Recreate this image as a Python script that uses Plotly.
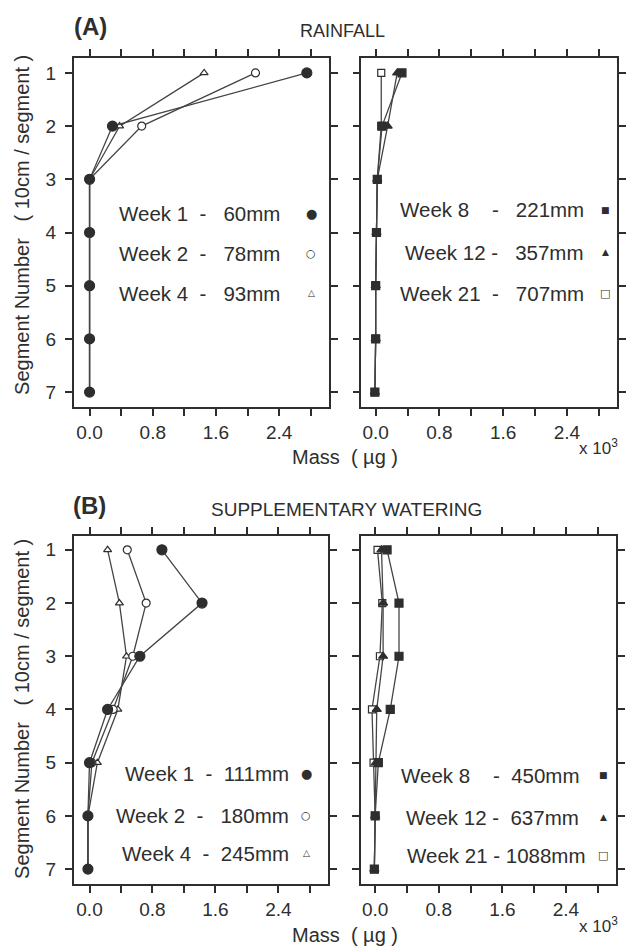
import plotly.graph_objects as go

# ---------------- data ----------------
segments = [1, 2, 3, 4, 5, 6, 7]
x_tick_vals = [0.0, 0.4, 0.8, 1.2, 1.6, 2.0, 2.4, 2.8]
x_tick_text = ["0.0", " ", "0.8", " ", "1.6", " ", "2.4", " "]
y_tick_vals = [1, 2, 3, 4, 5, 6, 7]
y_tick_text = ["1", "2", "3", "4", "5", "6", "7"]

# (A) Rainfall, mass (x10^3 ug) per segment
rain_week1 = [2.75, 0.29, 0.0, 0.0, 0.0, 0.0, 0.0]
rain_week2 = [2.10, 0.66, 0.0, 0.0, 0.0, 0.0, 0.0]
rain_week4 = [1.45, 0.38, 0.0, 0.0, 0.0, 0.0, 0.0]
rain_week8 = [0.33, 0.08, 0.02, 0.01, 0.0, 0.0, -0.01]
rain_week12 = [0.27, 0.15, 0.02, 0.01, 0.0, 0.0, -0.01]
rain_week21 = [0.07, 0.07, 0.02, 0.01, 0.0, 0.0, -0.01]

# (B) Supplementary watering
supp_week1 = [0.92, 1.43, 0.64, 0.23, 0.0, -0.02, -0.02]
supp_week2 = [0.48, 0.72, 0.55, 0.30, 0.03, -0.02, -0.02]
supp_week4 = [0.23, 0.38, 0.47, 0.36, 0.10, -0.02, -0.02]
supp_week8 = [0.15, 0.30, 0.30, 0.19, 0.04, 0.0, -0.01]
supp_week12 = [0.08, 0.10, 0.10, 0.02, 0.01, 0.0, -0.01]
supp_week21 = [0.03, 0.09, 0.06, -0.04, -0.02, 0.0, -0.01]

S = "\u00a0"
legend_rain_left = ["Week 1" + S * 2 + "-" + S * 3 + "60mm",
                    "Week 2" + S * 2 + "-" + S * 3 + "78mm",
                    "Week 4" + S * 2 + "-" + S * 3 + "93mm"]
legend_rain_right = ["Week 8" + S * 4 + "-" + S * 3 + "221mm",
                     "Week 12" + S + "-" + S * 3 + "357mm",
                     "Week 21" + S * 2 + "-" + S * 3 + "707mm"]
legend_supp_left = ["Week 1" + S * 2 + "-" + S * 2 + "111mm",
                    "Week 2" + S * 2 + "-" + S * 3 + "180mm",
                    "Week 4" + S * 2 + "-" + S * 2 + "245mm"]
legend_supp_right = ["Week 8" + S * 4 + "-" + S * 2 + "450mm",
                     "Week 12" + S + "-" + S * 2 + "637mm",
                     "Week 21" + S + "-" + S + "1088mm"]

INK = "#2e2e2e"
LINE = "#444444"
FONT = "Liberation Sans, Arial, sans-serif"
W, H = 626, 946

fig = go.Figure()


def add_series(xvals, ax, symbol, size, filled):
    fig.add_trace(go.Scatter(
        x=xvals, y=segments, xaxis="x" + ax, yaxis="y" + ax,
        mode="lines+markers",
        line=dict(color=LINE, width=1.3),
        marker=dict(symbol=symbol, size=size,
                    color=INK if filled else "white",
                    line=dict(color=INK, width=1.2)),
        showlegend=False, cliponaxis=False, hoverinfo="x+y"))


# panel 1 (A left)
add_series(rain_week4, "", "triangle-up", 7, False)
add_series(rain_week2, "", "circle", 8, False)
add_series(rain_week1, "", "circle", 10, True)
# panel 2 (A right)
add_series(rain_week21, "2", "square", 7, False)
add_series(rain_week12, "2", "triangle-up", 8, True)
add_series(rain_week8, "2", "square", 8, True)
# panel 3 (B left)
add_series(supp_week4, "3", "triangle-up", 7, False)
add_series(supp_week2, "3", "circle", 8, False)
add_series(supp_week1, "3", "circle", 10, True)
# panel 4 (B right)
add_series(supp_week21, "4", "square", 7, False)
add_series(supp_week12, "4", "triangle-up", 8, True)
add_series(supp_week8, "4", "square", 8, True)


def px_x(p):
    return p / W


def px_y(p):
    return 1 - p / H


def xaxis(left, right, lo):
    return dict(domain=[px_x(left), px_x(right)], range=[lo, 3.03],
                tickvals=x_tick_vals, ticktext=x_tick_text,
                ticks="outside", ticklen=7, tickwidth=1.5, tickcolor=INK,
                showline=True, linewidth=1.6, linecolor=INK, mirror="ticks",
                showgrid=False, zeroline=False,
                tickfont=dict(family=FONT, size=19, color=INK))


def yaxis(top, bottom, lo, hi, labels, anchor):
    return dict(domain=[px_y(bottom), px_y(top)], range=[hi, lo],
                tickvals=y_tick_vals, ticktext=y_tick_text, showticklabels=labels,
                ticks="outside", ticklen=7, tickwidth=1.5, tickcolor=INK,
                showline=True, linewidth=1.6, linecolor=INK, mirror="ticks",
                showgrid=False, zeroline=False, anchor=anchor,
                ticklabelstandoff=5,
                tickfont=dict(family=FONT, size=19, color=INK))


layout = dict(
    width=W, height=H, margin=dict(l=0, r=0, t=0, b=0),
    paper_bgcolor="white", plot_bgcolor="white",
    xaxis=dict(xaxis(74, 330, -0.2), anchor="y"),
    yaxis=yaxis(58, 407, 0.72, 7.28, True, "x"),
    xaxis2=dict(xaxis(362.5, 619, -0.18), anchor="y2"),
    yaxis2=yaxis(58, 407, 0.72, 7.28, False, "x2"),
    xaxis3=dict(xaxis(74, 329, -0.2), anchor="y3"),
    yaxis3=yaxis(536, 884, 0.74, 7.28, True, "x3"),
    xaxis4=dict(xaxis(362, 618, -0.18), anchor="y4"),
    yaxis4=yaxis(536, 884, 0.74, 7.28, False, "x4"),
)
fig.update_layout(**layout)

ann = []


def text(x, y, s, size=18, xanchor="center", angle=0, bold=False, family=FONT):
    ann.append(dict(x=px_x(x), y=px_y(y), xref="paper", yref="paper",
                    text=("<b>%s</b>" % s) if bold else s, showarrow=False,
                    xanchor=xanchor, yanchor="middle", textangle=angle,
                    font=dict(family=family, size=size, color=INK)))


# panel titles
text(72, 27, "(A)", size=24, xanchor="left", bold=True)
text(344, 31, "RAINFALL", size=18)
text(71, 506, "(B)", size=24, xanchor="left", bold=True)
text(348, 509, "SUPPLEMENTARY WATERING", size=19)

# axis titles
mass = "Mass" + S * 2 + "(" + S + "\u00b5g" + S + ")"
seg_title = "Segment Number" + S * 3 + "(" + S + "10cm" + S + "/" + S + "segment" + S + ")"
text(346, 457, mass, size=20)
text(346, 935, mass, size=20)
text(22, 225, seg_title, size=20, angle=-90)
text(22, 709, seg_title, size=20, angle=-90)
text(600, 447, "x" + S + "10<sup>3</sup>", size=17)
text(600, 925, "x" + S + "10<sup>3</sup>", size=17)

# in-panel keys
GLYPH = "DejaVu Sans"
keys = [
    (legend_rain_left, [283, 283, 283], 312, [213, 253, 293],
     [("\u25cf", 13), ("\u25cb", 11), ("\u25b3", 9)]),
    (legend_rain_right, [588, 588, 588], 607, [210, 252, 293],
     [("\u25a0", 9), ("\u25b2", 9), ("\u25a1", 11)]),
    (legend_supp_left, [292, 292, 292], 307, [773, 815, 853],
     [("\u25cf", 13), ("\u25cb", 11), ("\u25b3", 9)]),
    (legend_supp_right, [583, 583, 590], 605, [775, 817, 855],
     [("\u25a0", 9), ("\u25b2", 9), ("\u25a1", 11)]),
]
for labels, xrs, xm, ys, glyphs in keys:
    for lab, xr, yy, (g, gs) in zip(labels, xrs, ys, glyphs):
        text(xr, yy, lab, size=20.5, xanchor="right")
        text(xm, yy, g, size=gs, family=GLYPH)

fig.update_layout(annotations=ann)
fig.write_html("out.html")
